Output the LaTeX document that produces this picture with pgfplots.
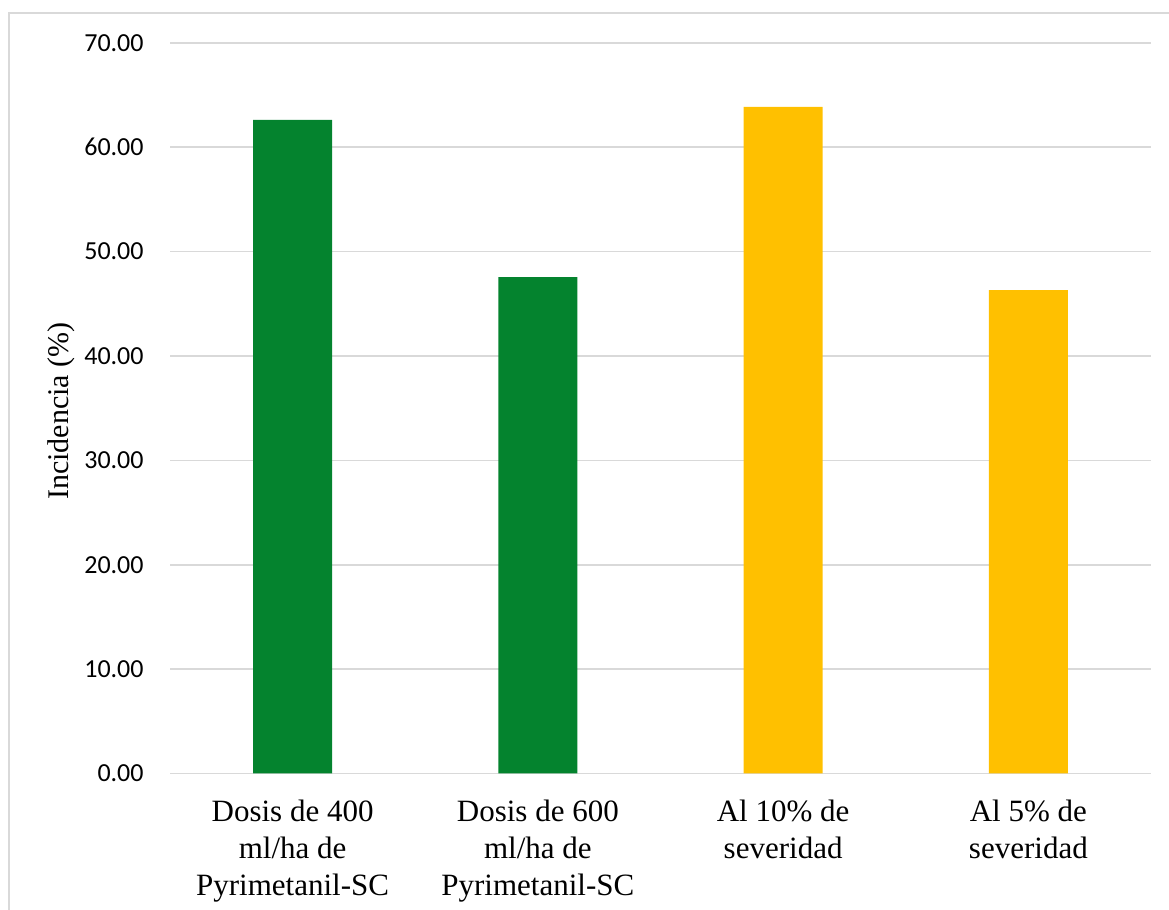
\documentclass[border=0pt]{standalone}
\usepackage{fontspec}
\setmainfont{Liberation Serif}
\newfontfamily\calibri{Carlito}
\usepackage{pgfplots}
\pgfplotsset{compat=1.18}
\definecolor{barGreen}{HTML}{04832E}
\definecolor{barGold}{HTML}{FFC000}
\definecolor{gridGray}{HTML}{D9D9D9}
\begin{document}
\begin{tikzpicture}
\useasboundingbox (0,0) rectangle (584.5pt,455pt);
\begin{scope}
\clip (0,0) rectangle (584.5pt,455pt);
\draw[gridGray, line width=0.8pt] (4.5pt,-20pt) rectangle (620pt,448.5pt);
\end{scope}
\begin{axis}[
  at={(85pt,68.25pt)}, anchor=south west,
  scale only axis,
  width=490.5pt, height=365.4pt,
  xmin=-0.5, xmax=3.5,
  ymin=0, ymax=70,
  ytick={0,10,...,70},
  xtick={0,1,2,3},
  xticklabels={{Dosis de 400\\ml/ha de\\Pyrimetanil-SC},
               {Dosis de 600\\ml/ha de\\Pyrimetanil-SC},
               {Al 10\% de\\severidad},
               {Al 5\% de\\severidad}},
  axis line style={draw=none},
  major tick length=0pt,
  ymajorgrids,
  grid style={gridGray, line width=0.8pt},
  xticklabel style={font=\fontsize{15.5}{18.5}\selectfont, align=center,
                    anchor=north, inner sep=0pt, yshift=-13pt},
  yticklabel style={font=\calibri\fontsize{13}{15}\selectfont,
                    anchor=east, inner sep=0pt, xshift=-13pt,
                    /pgf/number format/.cd, fixed, fixed zerofill,
                    precision=2, assume math mode=true},
  ylabel={Incidencia (\%)},
  ylabel style={font=\fontsize{15}{18}\selectfont,
                at={(axis description cs:0,0.5)}, anchor=center,
                inner sep=0pt, yshift=54.2pt, xshift=-1.5pt},
  ybar, bar width=39.5pt, bar shift=0pt,
  clip=false,
]
\addplot[fill=barGreen, draw=none] coordinates {(0,62.6) (1,47.55)};
\addplot[fill=barGold, draw=none] coordinates {(2,63.85) (3,46.3)};
\end{axis}
\end{tikzpicture}
\end{document}
